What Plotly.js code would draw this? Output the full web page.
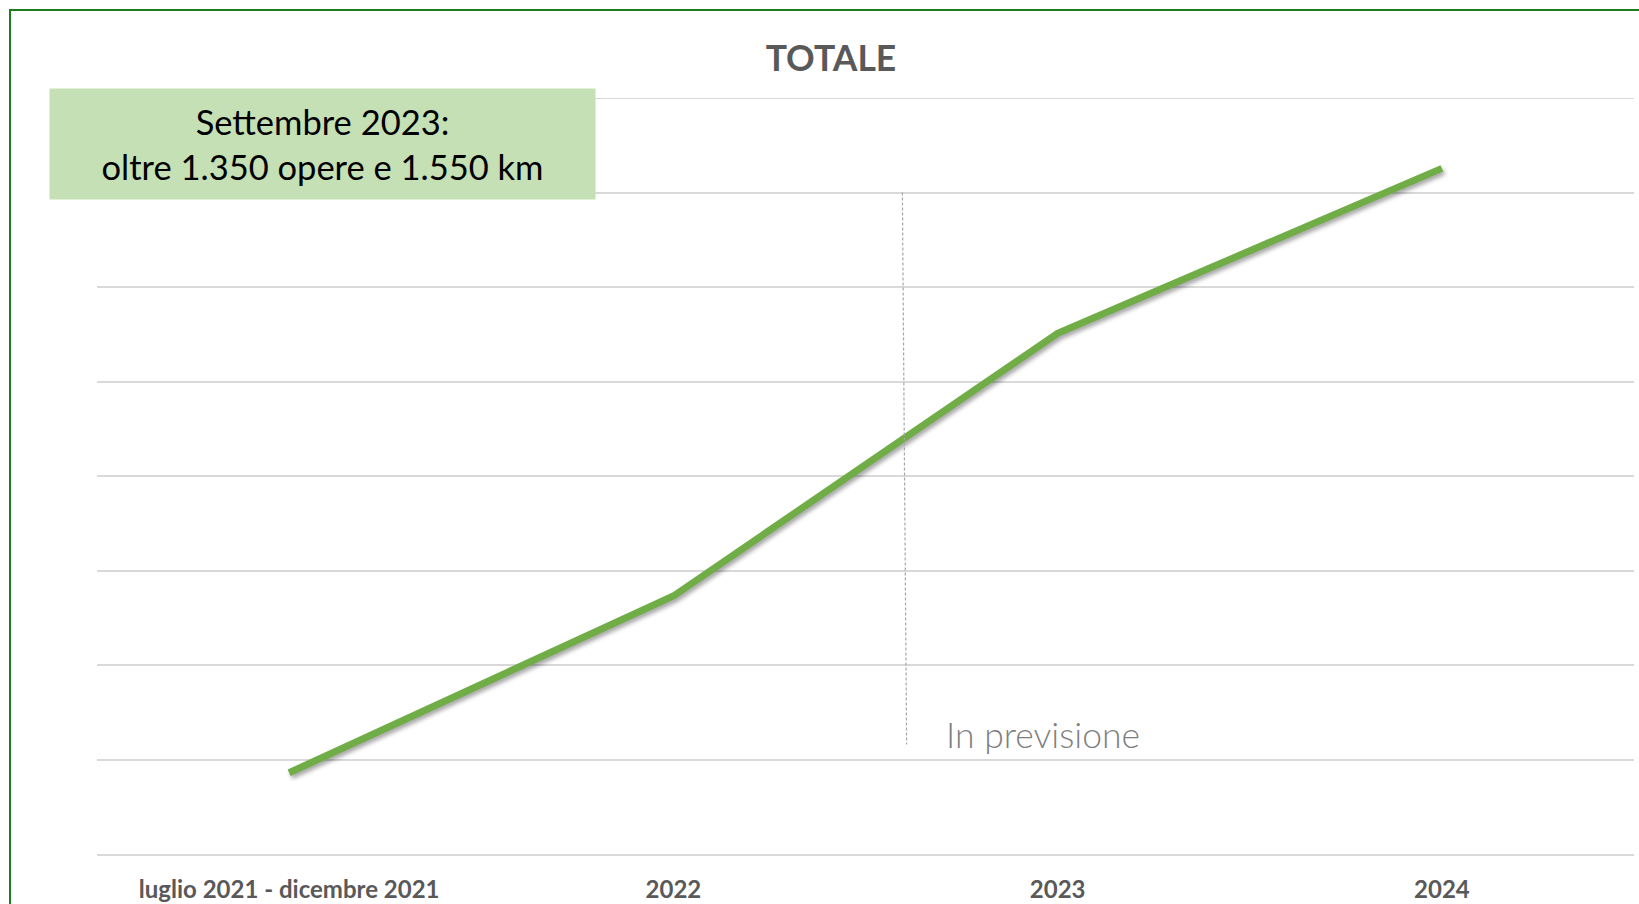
<!DOCTYPE html>
<html>
<head>
<meta charset="utf-8">
<script src="https://cdn.plot.ly/plotly-3.0.1.min.js"></script>
<style>
  html, body { margin: 0; padding: 0; background: #ffffff; overflow: hidden; }
  #wrap { position: relative; width: 1639px; height: 904px; }
  #chart { position: absolute; left: 0; top: 0; width: 1639px; height: 904px; }
  #frame { position: absolute; left: 9px; top: 9px; width: 1700px; height: 1000px;
           border: 2px solid #1e7b1e; box-sizing: border-box; pointer-events: none; }
  #chart .scatterlayer path.js-line { filter: drop-shadow(2px 3px 2px rgba(0,0,0,0.35)); }
</style>
</head>
<body>
<div id="wrap">
  <div id="chart"></div>
  <div id="frame"></div>
</div>
<script>
// ---- data ----
const categories = ["luglio 2021 - dicembre 2021", "2022", "2023", "2024"];
const totale = [172, 546, 1102, 1451];
const chartTitle = "TOTALE";
const boxText = "Settembre 2023:<br>oltre 1.350 opere e 1.550 km";
const forecastLabel = "In previsione";
const forecastStart = 1.596;   // position between 2022 and 2023 (category units)
const forecastEnd = 1.607;
const yMax = 1600;

const trace = {
  type: "scatter",
  mode: "lines",
  x: categories,
  y: totale,
  line: { color: "#70AD47", width: 7, shape: "linear" },
  hoverinfo: "skip",
  showlegend: false
};

const layout = {
  width: 1639,
  height: 904,
  paper_bgcolor: "#ffffff",
  plot_bgcolor: "#ffffff",
  margin: { l: 97, r: 5, t: 98, b: 50, pad: 0 },
  font: { family: "Lato", color: "#595959" },
  title: {
    text: chartTitle,
    font: { family: "Lato", size: 35.5, weight: "bold", color: "#595959" },
    xref: "container", x: 0.507, xanchor: "center",
    yref: "container", y: 0.935, yanchor: "middle"
  },
  xaxis: {
    type: "category",
    categoryorder: "array",
    categoryarray: categories,
    range: [-0.5, 3.5],
    showgrid: false,
    zeroline: false,
    showline: true,
    linecolor: "#d9d9d9",
    linewidth: 2,
    ticks: "",
    tickfont: { family: "Lato", size: 24, weight: "bold", color: "#595959" },
    ticklabelstandoff: 13,
    fixedrange: true
  },
  yaxis: {
    range: [0, yMax],
    dtick: 200,
    tick0: 0,
    showticklabels: false,
    ticks: "",
    showgrid: true,
    gridcolor: "#d9d9d9",
    gridwidth: 2,
    zeroline: false,
    showline: false,
    fixedrange: true
  },
  shapes: [
    {
      type: "line", xref: "paper", yref: "y", layer: "below",
      x0: 0, x1: 1, y0: yMax, y1: yMax,
      line: { color: "#d9d9d9", width: 2 }
    },
    {
      type: "line", xref: "x", yref: "y",
      x0: forecastStart, x1: forecastEnd, y0: 1400, y1: 232,
      line: { color: "#a6a6a6", width: 1.2, dash: "3px,2px" }
    }
  ],
  annotations: [
    {
      text: boxText,
      xref: "paper", yref: "paper",
      x: 0.1467, y: 0.939, xanchor: "center", yanchor: "middle",
      showarrow: false,
      bgcolor: "#C5E0B4",
      width: 545, height: 110,
      borderpad: 0,
      font: { family: "Lato", size: 34.5, color: "#000000" },
      align: "center"
    },
    {
      text: forecastLabel,
      xref: "x", yref: "y",
      x: 1.704, y: 253, xanchor: "left", yanchor: "middle",
      showarrow: false,
      font: { family: "Lato", size: 35.5, weight: 300, color: "#7f7f7f" }
    }
  ]
};

Plotly.newPlot("chart", [trace], layout, { displayModeBar: false, staticPlot: true });
</script>
</body>
</html>
